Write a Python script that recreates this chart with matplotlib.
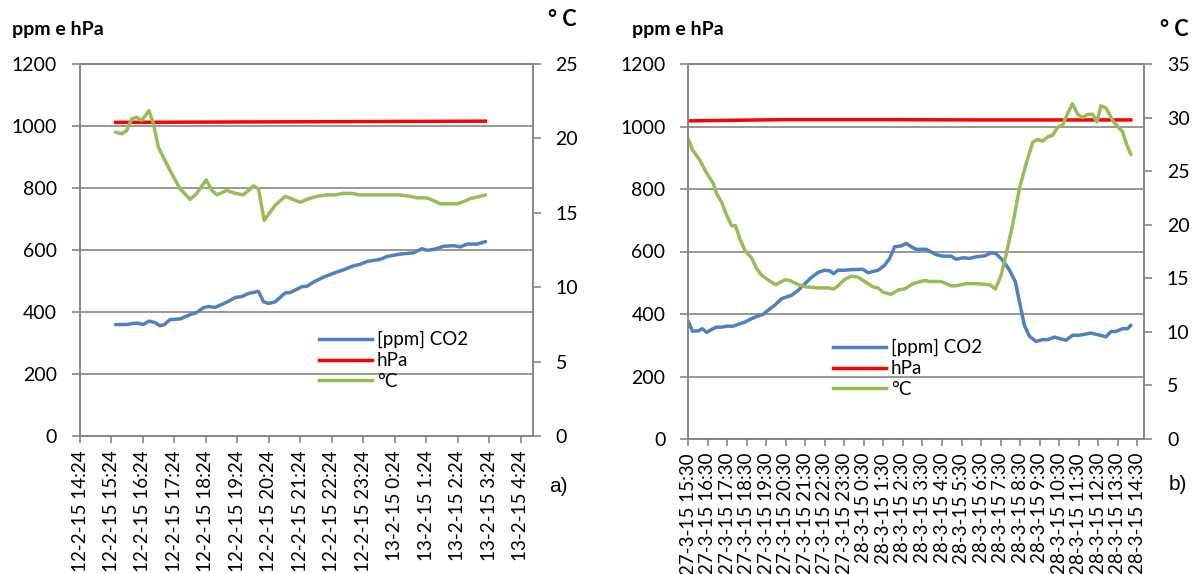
import matplotlib.pyplot as plt
from matplotlib.lines import Line2D

# ---- data (hours after first tick) ----
left_ticks = ['12-2-15 14:24', '12-2-15 15:24', '12-2-15 16:24', '12-2-15 17:24',
              '12-2-15 18:24', '12-2-15 19:24', '12-2-15 20:24', '12-2-15 21:24',
              '12-2-15 22:24', '12-2-15 23:24', '13-2-15 0:24', '13-2-15 1:24',
              '13-2-15 2:24', '13-2-15 3:24', '13-2-15 4:24']
right_ticks = ['27-3-15 15:30', '27-3-15 16:30', '27-3-15 17:30', '27-3-15 18:30',
               '27-3-15 19:30', '27-3-15 20:30', '27-3-15 21:30', '27-3-15 22:30',
               '27-3-15 23:30', '28-3-15 0:30', '28-3-15 1:30', '28-3-15 2:30',
               '28-3-15 3:30', '28-3-15 4:30', '28-3-15 5:30', '28-3-15 6:30',
               '28-3-15 7:30', '28-3-15 8:30', '28-3-15 9:30', '28-3-15 10:30',
               '28-3-15 11:30', '28-3-15 12:30', '28-3-15 13:30', '28-3-15 14:30']

left_co2_t = [1.13, 1.48, 1.80, 2.01, 2.19, 2.39, 2.54, 2.68, 2.86, 3.18,
              3.34, 3.55, 3.66, 3.92, 4.08, 4.29, 4.51, 4.72, 4.93, 5.14,
              5.35, 5.67, 5.83, 5.99, 6.20, 6.52, 6.68, 6.84, 7.05, 7.21,
              7.42, 7.74, 7.95, 8.16, 8.37, 8.69, 8.90, 9.12, 9.54, 9.75,
              10.18, 10.60, 10.86, 11.02, 11.24, 11.55, 11.87, 12.08, 12.30, 12.61,
              12.88]
left_co2 = [360, 360, 365, 360, 371, 366, 356, 360, 376, 378,
            385, 394, 396, 414, 418, 415, 425, 435, 447, 450,
            460, 467, 433, 428, 433, 462, 463, 471, 482, 483,
            497, 513, 521, 529, 536, 549, 554, 563, 570, 579,
            587, 591, 604, 599, 602, 612, 614, 610, 619, 619,
            627]
left_hpa_t = [1.13, 4.0, 7.0, 10.0, 12.88]
left_hpa = [1011, 1012, 1013, 1014, 1015]
left_temp_t = [1.13, 1.33, 1.48, 1.64, 1.80, 1.96, 2.07, 2.19, 2.33, 2.49,
               2.70, 2.92, 3.18, 3.50, 3.71, 4.01, 4.19, 4.35, 4.66, 4.93,
               5.19, 5.51, 5.67, 5.85, 6.20, 6.52, 7.00, 7.21, 7.53, 7.84,
               8.11, 8.37, 8.64, 8.85, 9.65, 10.12, 10.49, 10.71, 11.02, 11.24,
               11.45, 11.98, 12.19, 12.40, 12.61, 12.88]
left_temp = [20.4, 20.3, 20.5, 21.3, 21.4, 21.2, 21.5, 21.85, 21.0, 19.4,
             18.5, 17.6, 16.6, 15.9, 16.3, 17.2, 16.5, 16.2, 16.5, 16.3,
             16.2, 16.8, 16.6, 14.5, 15.5, 16.1, 15.7, 15.9, 16.1, 16.2,
             16.2, 16.3, 16.3, 16.2, 16.2, 16.2, 16.1, 16.0, 16.0, 15.8,
             15.6, 15.6, 15.75, 15.95, 16.05, 16.2]

right_co2_t = [0.00, 0.21, 0.51, 0.72, 0.94, 1.20, 1.45, 1.71, 1.96, 2.30,
               2.56, 2.90, 3.24, 3.50, 3.84, 4.09, 4.43, 4.78, 5.29, 5.63,
               5.97, 6.31, 6.65, 6.99, 7.25, 7.45, 7.67, 8.02, 8.36, 8.95,
               9.21, 9.72, 10.06, 10.32, 10.57, 10.91, 11.17, 11.43, 11.68, 12.19,
               12.70, 13.05, 13.47, 13.73, 14.07, 14.41, 14.75, 15.18, 15.52, 15.77,
               16.11, 16.46, 16.76, 16.97, 17.22, 17.48, 17.82, 18.16, 18.42, 18.76,
               19.35, 19.69, 20.04, 20.63, 20.97, 21.40, 21.66, 21.91, 22.25, 22.51,
               22.68]
right_co2 = [376, 345, 346, 353, 341, 351, 358, 358, 361, 361,
             367, 374, 385, 392, 399, 412, 428, 449, 460, 476,
             497, 517, 533, 540, 538, 529, 540, 540, 542, 543,
             532, 540, 556, 578, 615, 618, 626, 615, 607, 607,
             590, 585, 585, 575, 580, 578, 583, 586, 596, 593,
             572, 540, 503, 439, 364, 329, 312, 318, 318, 326,
             316, 332, 332, 339, 334, 327, 344, 344, 353, 353,
             364]
right_hpa_t = [0.0, 5.0, 10.0, 15.0, 22.68]
right_hpa = [1018, 1022, 1022, 1021, 1021]
right_temp_t = [0.00, 0.21, 0.60, 0.85, 1.02, 1.28, 1.45, 1.71, 1.96, 2.22,
                2.42, 2.64, 2.90, 3.24, 3.50, 3.75, 4.09, 4.47, 4.95, 5.20,
                5.63, 6.05, 6.65, 7.16, 7.45, 7.67, 8.02, 8.36, 8.70, 9.04,
                9.46, 9.72, 9.98, 10.40, 10.74, 11.08, 11.51, 12.11, 12.36, 12.96,
                13.47, 13.73, 14.24, 14.75, 15.43, 15.74, 16.03, 16.28, 16.63, 16.97,
                17.31, 17.65, 17.90, 18.16, 18.42, 18.67, 18.93, 19.18, 19.44, 19.69,
                19.95, 20.21, 20.46, 20.72, 20.94, 21.14, 21.40, 21.74, 22.08, 22.25,
                22.46, 22.68]
right_temp = [28.0, 27.0, 26.0, 25.1, 24.6, 23.85, 22.9, 22.1, 20.9, 19.9,
              19.9, 18.7, 17.6, 16.9, 15.9, 15.3, 14.85, 14.4, 14.85, 14.8,
              14.4, 14.2, 14.1, 14.1, 14.0, 14.3, 14.9, 15.2, 15.1, 14.7,
              14.2, 14.1, 13.7, 13.5, 13.9, 14.0, 14.5, 14.8, 14.7, 14.7,
              14.3, 14.3, 14.5, 14.5, 14.4, 14.0, 15.3, 17.2, 20.1, 23.4,
              25.7, 27.7, 27.95, 27.8, 28.2, 28.35, 29.1, 29.3, 30.4, 31.3,
              30.3, 30.0, 30.3, 30.3, 29.6, 31.1, 30.9, 29.75, 29.0, 28.7,
              27.5, 26.55]

labels = ['[ppm] CO2', 'hPa', '°C']
c_co2, c_hpa, c_temp = '#4F81BD', '#FF0000', '#9BBB59'
grey = '#868686'
LW = 2.5

plt.rcParams['font.family'] = ['Lato', 'DejaVu Sans']

W, H = 1197, 574
fig = plt.figure(figsize=(W / 100, H / 100), dpi=100)


def make_panel(box, xmax, ticks, co2_t, co2, hpa_t, hpa, temp_t, temp, tmax,
               leg_xy, tag, tag_xy, ylab_xy, deg_xy):
    x0, y0, x1, y1 = box
    ax = fig.add_axes([x0 / W, 1 - y1 / H, (x1 - x0) / W, (y1 - y0) / H])
    ax2 = ax.twinx()
    ax.plot(co2_t, co2, color=c_co2, lw=LW, solid_capstyle='round')
    ax.plot(hpa_t, hpa, color=c_hpa, lw=LW)
    ax2.plot(temp_t, temp, color=c_temp, lw=LW, solid_capstyle='round')

    ax.set_xlim(0, xmax)
    ax.set_ylim(0, 1200)
    ax2.set_ylim(0, tmax)
    ax.set_yticks(range(0, 1201, 200))
    ax2.set_yticks(range(0, tmax + 1, 5))
    ax.set_xticks(range(len(ticks)))
    ax.set_xticklabels(ticks, rotation=90, va='top', ha='center', fontsize=13.5)
    ax.yaxis.grid(True, color=grey, lw=1.2)
    ax.set_axisbelow(True)

    for a in (ax, ax2):
        for s in a.spines.values():
            s.set_color(grey)
            s.set_linewidth(1.2)
    ax.tick_params(axis='y', length=5.5, width=1.2, color=grey, pad=11, labelsize=14)
    ax.tick_params(axis='x', length=5, width=1.2, color=grey, pad=5)
    ax2.tick_params(axis='y', length=5.5, width=1.2, color=grey, pad=11, labelsize=14)

    handles = [Line2D([], [], color=c, lw=LW) for c in (c_co2, c_hpa, c_temp)]
    ax2.legend(handles, labels, loc='upper left', frameon=False, fontsize=13.5,
               bbox_to_anchor=(leg_xy[0] / W, 1 - leg_xy[1] / H),
               bbox_transform=fig.transFigure, borderpad=0, borderaxespad=0,
               handlelength=2.8, handletextpad=0.3, labelspacing=0.2)

    fig.text(ylab_xy[0] / W, 1 - ylab_xy[1] / H, 'ppm e hPa', fontsize=14,
             fontweight='bold', va='center', ha='left')
    fig.text(deg_xy[0] / W, 1 - deg_xy[1] / H, '° C', fontsize=15.5,
             fontweight='bold', va='center', ha='left')
    fig.text(tag_xy[0] / W, 1 - tag_xy[1] / H, tag, fontsize=15,
             family='Liberation Sans', va='center', ha='left')


make_panel((80, 63.7, 532.7, 436.3), 14.38, left_ticks,
           left_co2_t, left_co2, left_hpa_t, left_hpa, left_temp_t, left_temp, 25,
           (319, 331), 'a)', (549, 486), (12, 29), (548, 20))
make_panel((688.3, 64, 1144, 439), 23.35, right_ticks,
           right_co2_t, right_co2, right_hpa_t, right_hpa, right_temp_t, right_temp, 35,
           (833, 339), 'b)', (1169, 485), (632, 29), (1160, 29))

fig.savefig('out.png', dpi=100)
